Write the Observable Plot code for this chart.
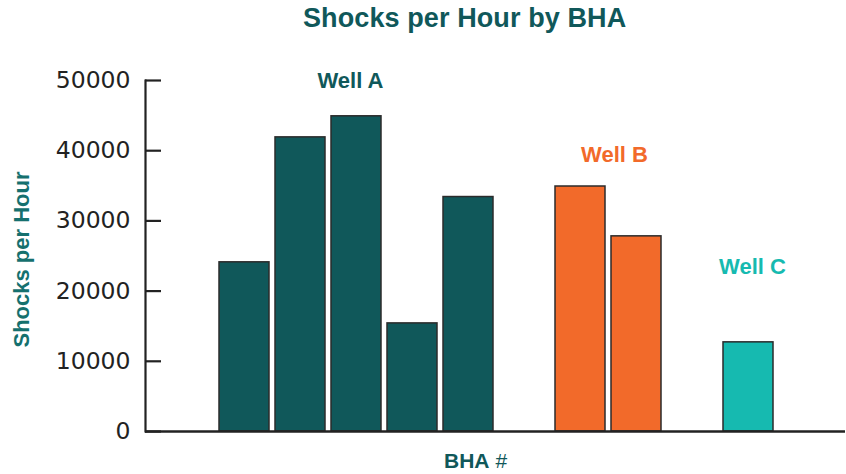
<!DOCTYPE html>
<html>
<head>
<meta charset="utf-8">
<script src="https://cdn.jsdelivr.net/npm/d3@7"></script>
<script src="https://cdn.jsdelivr.net/npm/@observablehq/plot@0.6"></script>
<style>
  html, body { margin: 0; padding: 0; background: #fff; }
  #title { height: 40px; width: 846px; position: relative; font-family: "Liberation Sans", Arial, sans-serif; }
  #title span { position: absolute; left: 303px; top: 3px; font-size: 27px; font-weight: bold; color: #10585a; white-space: nowrap; letter-spacing: 0.1px; }
</style>
</head>
<body>
<div id="title"><span>Shocks per Hour by BHA</span></div>
<div id="chart"></div>
<script>
// ---- data ----
const bhas = ["A1", "A2", "A3", "A4", "A5", "B1", "B2", "C1"];
const shocks = [24100, 41900, 44900, 15400, 33400, 34900, 27800, 12700];
const wellOf = ["Well A", "Well A", "Well A", "Well A", "Well A", "Well B", "Well B", "Well C"];
const slotOrder = ["A1", "A2", "A3", "A4", "A5", "gap1", "B1", "B2", "gap2", "C1"];
const wellNames = ["Well A", "Well B", "Well C"];
const wellColors = ["#10585a", "#f26a2a", "#16bab0"];
const wellLabelSlot = ["A3", "B1", "C1"];
const wellLabelValue = [49900, 39400, 23400];
const wellLabelShift = [-6, 34, 4];
const yTicks = [0, 10000, 20000, 30000, 40000, 50000];

const bars = bhas.map((b, i) => ({bha: b, shocks: shocks[i], well: wellOf[i]}));
const labels = wellNames.map((w, i) => ({well: w, slot: wellLabelSlot[i], value: wellLabelValue[i], shift: wellLabelShift[i]}));

const W = 846, H = 434;
const marginLeft = 145, marginRight = 1, marginTop = 40, marginBottom = 43;
const frameW = W - marginLeft - marginRight;

const colorScale = d3.scaleOrdinal(wellNames, wellColors);

const chart = Plot.plot({
  width: W,
  height: H,
  marginLeft, marginRight, marginTop, marginBottom,
  style: {fontFamily: "'Liberation Sans', Arial, sans-serif", background: "#fff"},
  x: {domain: slotOrder, padding: 0.1, insetLeft: 66.7, insetRight: 64.2, axis: null},
  y: {domain: [0, 50000], axis: null},
  marks: [
    Plot.barY(bars, {x: "bha", y: "shocks", fill: d => colorScale(d.well), stroke: "#2b2b2b", strokeWidth: 1.5}),
    Plot.ruleY(yTicks, {y: d => d, stroke: "#222", strokeWidth: 2.2, insetRight: frameW - 16}),
    Plot.axisY({ticks: yTicks, tickSize: 0, tickPadding: 15, tickFormat: d => String(d), fontSize: 23.5, fontFamily: "'DejaVu Sans', sans-serif", fill: "#222", label: null}),
    Plot.frame({anchor: "left", stroke: "#222", strokeWidth: 2.2}),
    Plot.ruleY([0], {stroke: "#222", strokeWidth: 2.6}),
    ...labels.map(l => Plot.text([l], {x: "slot", y: "value", text: "well", dx: l.shift, fill: colorScale(l.well), fontSize: 22, fontWeight: "bold"})),
    Plot.text(["Shocks per Hour"], {frameAnchor: "left", textAnchor: "middle", lineAnchor: "middle", text: d => d, rotate: -90, dx: -124, dy: 3.5, fill: "#15706e", fontSize: 22, fontWeight: "bold"}),
    Plot.text(["BHA"], {frameAnchor: "bottom", lineAnchor: "middle", text: d => d, textAnchor: "end", dx: -6, dy: 30, fill: "#10585a", fontSize: 21, fontWeight: "bold"}),
    Plot.text(["#"], {frameAnchor: "bottom", lineAnchor: "middle", text: d => d, textAnchor: "start", dx: 0, dy: 30, fill: "#10585a", fontSize: 21})
  ]
});
document.getElementById("chart").appendChild(chart);
</script>
</body>
</html>
